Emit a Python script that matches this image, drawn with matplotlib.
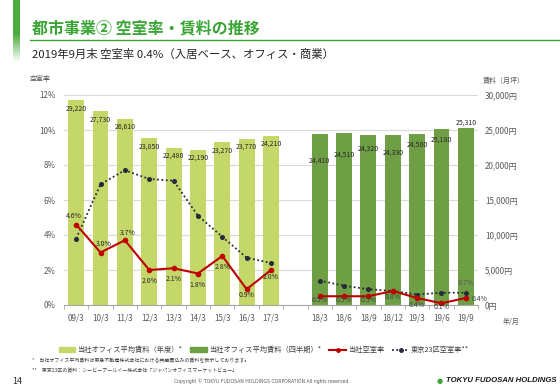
import numpy as np
import matplotlib
matplotlib.use("Agg")
import matplotlib.pyplot as plt
from matplotlib.lines import Line2D
from matplotlib.patches import Patch

plt.rcParams['font.family'] = ['Noto Sans CJK JP', 'DejaVu Sans']

# annual data (fiscal year end March)
annual_labels = ["09/3", "10/3", "11/3", "12/3", "13/3", "14/3", "15/3", "16/3", "17/3"]
annual_rent = [29220, 27730, 26610, 23850, 22480, 22190, 23270, 23770, 24210]
annual_vac = [4.6, 3.0, 3.7, 2.0, 2.1, 1.8, 2.8, 0.9, 2.0]
annual_tokyo = [3.8, 6.9, 7.7, 7.2, 7.1, 5.1, 3.9, 2.7, 2.4]

# quarterly data
quarter_labels = ["18/3", "18/6", "18/9", "18/12", "19/3", "19/6", "19/9"]
quarter_rent = [24410, 24510, 24320, 24330, 24500, 25180, 25310]
quarter_vac = [0.5, 0.5, 0.5, 0.8, 0.4, 0.1, 0.4]
quarter_tokyo = [1.4, 1.1, 0.9, 0.8, 0.6, 0.7, 0.7]

# label offsets in points (dx, dy) - placement only
annual_rent_off = [-6] * 9
quarter_rent_off = [-19, -15, -10, -13, -8, -8, 4]
annual_vac_off = [(-2, 6), (2, 6), (2, 5), (0, -8), (0, -8), (0, -8), (0, -8), (0, -4), (0, -5)]
quarter_vac_off = [(0, -3), (0, -3), (0, -3), (0, -4), (0, -5), (0, -3), (10, -1)]

LIGHT = "#C4D86A"
DARK = "#6F9F45"
RED = "#C00000"
NAVY = "#262A3A"
GRAY = "#595959"
GREEN = "#3AA535"

xa = np.arange(len(annual_labels))
xq = np.arange(len(quarter_labels)) + len(annual_labels) + 1

fig = plt.figure(figsize=(5.6, 3.88), dpi=100)

# left decorative green bar with fade
gax = fig.add_axes([13 / 560, 1 - 62 / 388, 7 / 560, 62 / 388])
grad = np.ones((100, 1, 4))
grad[:, 0, 0] = 0.30
grad[:, 0, 1] = 0.68
grad[:, 0, 2] = 0.25
grad[:, 0, 3] = np.concatenate([np.ones(55), np.linspace(1, 0, 45)])
gax.imshow(grad, aspect="auto")
gax.axis("off")

fig.text(32 / 560, 1 - 29 / 388, "都市事業② 空室率・賃料の推移", color=GREEN,
         fontsize=11.5, fontweight="bold", va="center", ha="left")
fig.add_artist(Line2D([30 / 560, 1.0], [1 - 40 / 388] * 2, color=GREEN, lw=1.0))
fig.text(32 / 560, 1 - 54 / 388, "2019年9月末 空室率 0.4%（入居ベース、オフィス・商業）",
         color="#262626", fontsize=8.2, va="center", ha="left")

ax = fig.add_axes([64 / 560, 1 - 305 / 388, 414 / 560, 210 / 388])
ax2 = ax.twinx()
ax2.set_zorder(0)
ax.set_zorder(1)
ax.patch.set_visible(False)

w = 0.65
ax2.bar(xa, annual_rent, width=w, color=LIGHT, zorder=2)
ax2.bar(xq, quarter_rent, width=w, color=DARK, zorder=2)
ax2.set_ylim(0, 30000)
ax2.set_yticks(np.arange(0, 30001, 5000))
ax2.set_yticklabels([f"{v:,}円" for v in range(0, 30001, 5000)])
ax2.yaxis.grid(True, color="#D9D9D9", lw=0.8, zorder=0)
ax2.set_axisbelow(True)

for x, v, o in zip(xa, annual_rent, annual_rent_off):
    ax2.annotate(f"{v:,}", (x, v), xytext=(0, o), textcoords="offset points",
                 ha="center", va="center", fontsize=5, color="#262626")
for x, v, o in zip(xq, quarter_rent, quarter_rent_off):
    ax2.annotate(f"{v:,}", (x, v), xytext=(0, o), textcoords="offset points",
                 ha="center", va="center", fontsize=5, color="#262626")

ax.plot(xa, annual_vac, color=RED, lw=1.5, marker="o", ms=3, zorder=4)
ax.plot(xq, quarter_vac, color=RED, lw=1.5, marker="o", ms=3, zorder=4)
ax.plot(xa, annual_tokyo, color=NAVY, lw=1.3, ls=(0, (1, 1.4)), marker="o", ms=2.6, zorder=3)
ax.plot(xq, quarter_tokyo, color=NAVY, lw=1.3, ls=(0, (1, 1.4)), marker="o", ms=2.6, zorder=3)

for x, v, (dx, dy) in zip(xa, annual_vac, annual_vac_off):
    ax.annotate(f"{v}%", (x, v), xytext=(dx, dy), textcoords="offset points",
                ha="center", va="center", fontsize=5, color="#262626", zorder=5)
for x, v, (dx, dy) in zip(xq, quarter_vac, quarter_vac_off):
    ax.annotate(f"{v}%", (x, v), xytext=(dx, dy), textcoords="offset points",
                ha="center", va="center", fontsize=5, color="#404040", zorder=5)
ax.annotate(f"{quarter_tokyo[-1]}%", (xq[-1], quarter_tokyo[-1]), xytext=(0, 7),
            textcoords="offset points", ha="center", va="center", fontsize=5, color=GRAY)

ax.set_ylim(0, 12)
ax.set_yticks(np.arange(0, 13, 2))
ax.set_yticklabels([f"{v}%" for v in range(0, 13, 2)])
ax.set_xlim(-0.5, 16.45)
ax.set_xticks(list(xa) + list(xq))
ax.set_xticklabels(annual_labels + quarter_labels)
ax.set_xticks(np.arange(-0.5, 17, 1), minor=True)
ax.tick_params(axis="x", which="major", length=0, pad=6, labelsize=5.8, colors=GRAY)
ax.tick_params(axis="x", which="minor", length=3, color="#A6A6A6", direction="out")
ax.tick_params(axis="y", length=0, labelsize=5.8, colors=GRAY, pad=6)
ax2.tick_params(axis="y", length=0, labelsize=5.8, colors=GRAY, pad=5)

for a in (ax, ax2):
    for s in ("top", "right", "left"):
        a.spines[s].set_visible(False)
ax2.spines["bottom"].set_visible(False)
ax.spines["bottom"].set_color("#A6A6A6")

fig.text(30 / 560, 1 - 79 / 388, "空室率", fontsize=5, color=GRAY, ha="left", va="center")
fig.text(483 / 560, 1 - 81 / 388, "賃料（月坪）", fontsize=5, color=GRAY, ha="left", va="center")
fig.text(503 / 560, 1 - 322 / 388, "年/月", fontsize=5, color=GRAY, ha="left", va="center")

handles = [
    Patch(color=LIGHT),
    Patch(color=DARK),
    Line2D([], [], color=RED, lw=1.5, marker="o", ms=2.5),
    Line2D([], [], color=NAVY, lw=1.3, ls=(0, (1, 1.4)), marker="o", ms=2.5),
]
names = ["当社オフィス平均賃料（年度）*", "当社オフィス平均賃料（四半期）*", "当社空室率", "東京23区空室率**"]
fig.legend(handles, names, loc="center", bbox_to_anchor=(264 / 560, 1 - 350 / 388),
           ncol=4, frameon=False, fontsize=5.2, handlelength=2.3, handleheight=0.6,
           columnspacing=1.1, handletextpad=0.3, labelcolor="#404040")

fig.text(32 / 560, 1 - 361 / 388,
         "*　当社オフィス平均賃料は東急不動産株式会社における共益費込みの賃料を表示しております。",
         fontsize=3.6, color="#404040", ha="left", va="center")
fig.text(32 / 560, 1 - 371 / 388,
         "**　東京23区の資料：シービーアールイー株式会社「ジャパンオフィスマーケットビュー」",
         fontsize=3.6, color="#404040", ha="left", va="center")
fig.text(12 / 560, 1 - 381 / 388, "14", fontsize=6.5, color="#262626", ha="left", va="center")
fig.text(262 / 560, 1 - 381 / 388,
         "Copyright © TOKYU FUDOSAN HOLDINGS CORPORATION All rights reserved.",
         fontsize=3.3, color="#595959", ha="center", va="center", family="DejaVu Sans")
fig.text(440 / 560, 1 - 381 / 388, "●", fontsize=5, color=GREEN, ha="center", va="center",
         family="DejaVu Sans")
fig.text(446 / 560, 1 - 381 / 388, "TOKYU FUDOSAN HOLDINGS", fontsize=5.6, color="#1a1a1a",
         ha="left", va="center", fontweight="bold", style="italic", family="Liberation Sans")

fig.savefig("out.png", dpi=100)
